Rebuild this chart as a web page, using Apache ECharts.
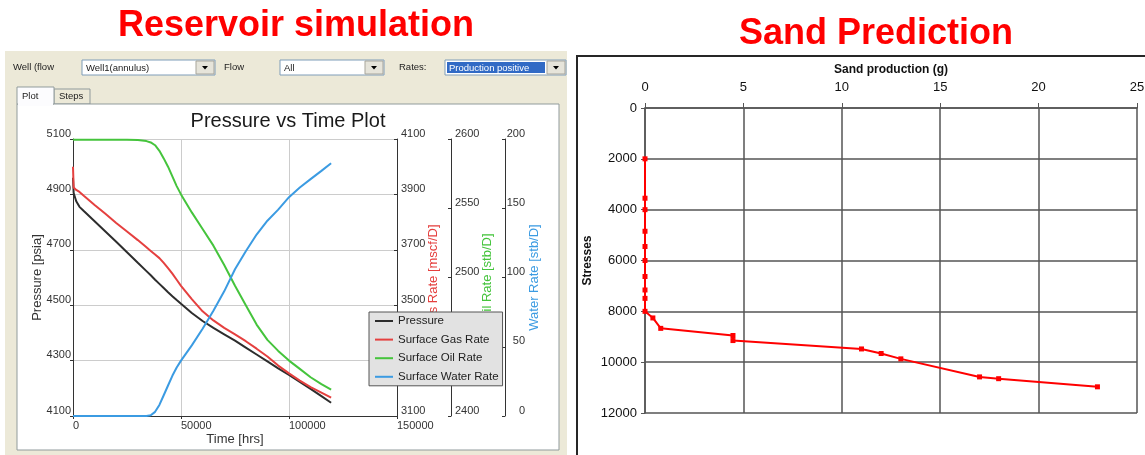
<!DOCTYPE html>
<html>
<head>
<meta charset="utf-8">
<script src="https://cdn.jsdelivr.net/npm/echarts@6/dist/echarts.min.js"></script>
<style>
  html, body { margin: 0; padding: 0; background: #ffffff; }
  #chart { width: 1145px; height: 455px; }
</style>
</head>
<body>
<div id="chart"></div>
<script>
// ---- Reservoir simulation: well history ----
const timeHrs = [0, 300, 1500, 3000, 5000, 10000, 15000, 20000, 25000, 30000, 34000, 36000, 38000,
  40000, 42000, 44000, 46000, 48000, 50000, 55000, 60000, 65000, 70000, 75000, 80000, 85000,
  90000, 95000, 100000, 105000, 110000, 115000, 119500];
const pressurePsia = [4960, 4905, 4875, 4855, 4840, 4803, 4766, 4729, 4691, 4653, 4623, 4608, 4592,
  4577, 4562, 4547, 4532.5, 4518.5, 4505, 4472, 4443, 4418, 4395, 4372, 4347, 4322,
  4297, 4272, 4248, 4223, 4198, 4172, 4148];
const gasRate = [4000, 3925, 3916, 3909, 3895, 3862, 3830, 3797, 3766, 3735, 3709, 3696, 3683,
  3670, 3653, 3634, 3614, 3592, 3570, 3522, 3478, 3445, 3418, 3395, 3370, 3343,
  3315, 3282, 3254, 3228, 3204, 3184, 3166];
const oilRate = [2599.5, 2599.5, 2599.5, 2599.5, 2599.5, 2599.5, 2599.5, 2599.5, 2599.5, 2599.3, 2598.5, 2597.5, 2595.5,
  2591.5, 2586, 2580, 2573, 2566, 2560, 2547, 2535, 2523, 2509, 2494, 2480, 2466,
  2455, 2447, 2440, 2434, 2428, 2423, 2419];
const waterRate = [0, 0, 0, 0, 0, 0, 0, 0, 0, 0, 0, 0.5, 3,
  8, 15, 22, 29, 35, 40, 51, 63, 76, 90, 106, 119, 131,
  141, 149, 158, 165, 171, 177, 182.5];
const seriesNames = ['Pressure', 'Surface Gas Rate', 'Surface Oil Rate', 'Surface Water Rate'];

// ---- Sand prediction ----
const sandGrams = [0, 0, 0, 0, 0, 0, 0, 0, 0, 0, 0.4, 0.8, 4.47, 4.47, 11.0, 12.0, 13.0, 17.0, 17.97, 22.99];
const stressValues = [2000, 3550, 4000, 4850, 5450, 6000, 6630, 7160, 7490, 8000, 8260, 8670, 8950, 9150,
  9480, 9660, 9870, 10580, 10650, 10970];

const pairs = (xs, ys) => xs.map((x, i) => [x, ys[i]]);
const plain = v => String(v);

const FONT = 'Arial, "Liberation Sans", sans-serif';
const C = { p: '#2d2d2d', gas: '#e5403f', oil: '#45c43c', water: '#3b9be2' };

// ---- dialog chrome ----
function label(x, y, text, size, color, extra) {
  return Object.assign({
    type: 'text', x: x, y: y,
    style: { text: text, font: size + 'px ' + FONT, fill: color || '#222',
      align: 'left', verticalAlign: 'middle', textAlign: 'left', textVerticalAlign: 'middle' }
  }, extra || {});
}
function combo(x, y, w, h, text, selected) {
  const els = [
    { type: 'rect', shape: { x: x, y: y, width: w, height: h }, style: { fill: '#ffffff', stroke: '#7f9db9', lineWidth: 1 } }
  ];
  const bx = x + w - 19;
  if (selected) {
    els.push({ type: 'rect', shape: { x: x + 2, y: y + 2, width: bx - x - 4, height: h - 4 }, style: { fill: '#316ac5' } });
  }
  els.push(label(x + 4, y + h / 2 + 0.5, text, 9.5, selected ? '#ffffff' : '#222'));
  els.push({ type: 'rect', shape: { x: bx, y: y + 1, width: 18, height: h - 2 }, style: { fill: '#e6e4da', stroke: '#a7a59b', lineWidth: 1 } });
  const cx = bx + 9, cy = y + h / 2;
  els.push({ type: 'polygon', shape: { points: [[cx - 3, cy - 1.5], [cx + 3, cy - 1.5], [cx, cy + 2]] }, style: { fill: '#000' } });
  return els;
}

const chrome = [
  { type: 'rect', z: -5, shape: { x: 5, y: 51, width: 562, height: 404 }, style: { fill: '#ece9d8' } },
  label(13, 67, 'Well (flow', 9.5, '#222'),
  ...combo(82, 60, 133, 15, 'Well1(annulus)', false),
  label(224, 67, 'Flow', 9.5, '#222'),
  ...combo(280, 60, 104, 15, 'All', false),
  label(399, 67, 'Rates:', 9.5, '#222'),
  ...combo(445, 60, 121, 15, 'Production positive', true),
  // tabs and tab page
  { type: 'rect', z: -4, shape: { x: 54, y: 89, width: 36, height: 15 }, style: { fill: '#ece9d8', stroke: '#919b9c', lineWidth: 1 } },
  label(59, 96.5, 'Steps', 9.5, '#222'),
  { type: 'rect', z: -4, shape: { x: 17, y: 104, width: 542, height: 346 }, style: { fill: '#ffffff', stroke: '#919b9c', lineWidth: 1 } },
  { type: 'rect', z: -3, shape: { x: 17, y: 87, width: 37, height: 17 }, style: { fill: '#fcfcfe', stroke: '#919b9c', lineWidth: 1 } },
  { type: 'rect', z: -2, shape: { x: 18, y: 103, width: 35, height: 3 }, style: { fill: '#fcfcfe' } },
  label(22, 96, 'Plot', 9.5, '#222'),
  // headings
  { type: 'text', x: 296, y: 26, style: { text: 'Reservoir simulation', font: 'bold 36px ' + FONT, fill: '#ff0000',
      align: 'center', verticalAlign: 'middle', textAlign: 'center', textVerticalAlign: 'middle' } },
  { type: 'text', x: 876, y: 34, style: { text: 'Sand Prediction', font: 'bold 36px ' + FONT, fill: '#ff0000',
      align: 'center', verticalAlign: 'middle', textAlign: 'center', textVerticalAlign: 'middle' } },
  { type: 'text', x: 288, y: 121, style: { text: 'Pressure vs Time Plot', font: '20px ' + FONT, fill: '#1a1a1a',
      align: 'center', verticalAlign: 'middle', textAlign: 'center', textVerticalAlign: 'middle' } },
  // frame round the sand chart
  { type: 'rect', z: -5, shape: { x: 577, y: 56, width: 600, height: 420 }, style: { fill: 'none', stroke: '#262626', lineWidth: 2 } }
];

const lineSeries = (name, values, yIdx, color) => ({
  name: name, type: 'line', xAxisIndex: 0, yAxisIndex: yIdx,
  data: pairs(timeHrs, values), symbol: 'none', showSymbol: false,
  lineStyle: { color: color, width: 2 }, itemStyle: { color: color }
});

const rightAxis = (offset, min, max, interval, name, color, labelAlign, labelMargin, nameGap) => ({
  type: 'value', gridIndex: 0, position: 'right', offset: offset,
  min: min, max: max, interval: interval,
  axisLine: { show: true, onZero: false, lineStyle: { color: '#333', width: 1 } },
  axisTick: { show: true, inside: true, length: 3, lineStyle: { color: '#333' } },
  axisLabel: { fontSize: 11, color: '#333', fontFamily: FONT, align: labelAlign, margin: labelMargin,
    verticalAlign: 'bottom', formatter: plain },
  splitLine: { show: false },
  name: name, nameLocation: 'middle', nameRotate: 90, nameGap: nameGap, nameMoveOverlap: false,
  nameTextStyle: { fontSize: 13, color: color, fontFamily: FONT }
});

const option = {
  animation: false,
  backgroundColor: '#ffffff',
  textStyle: { fontFamily: FONT },
  graphic: { elements: chrome },
  legend: {
    data: seriesNames,
    orient: 'vertical', left: 369, top: 312,
    padding: [2, 4, 2, 6], itemGap: 4.6, itemWidth: 18, itemHeight: 14,
    icon: 'path://M0,0 M18,14 M0,6 L18,6 L18,8 L0,8 Z',
    backgroundColor: '#e2e2e2', borderColor: '#555', borderWidth: 1, borderRadius: 0,
    textStyle: { fontSize: 11.5, color: '#222', fontFamily: FONT, lineHeight: 14 },
    selectedMode: false
  },
  grid: [
    { left: 73, top: 139, width: 324, height: 277, containLabel: false, outerBoundsMode: 'none' },
    { left: 645, top: 108, width: 492, height: 305, containLabel: false, outerBoundsMode: 'none' }
  ],
  xAxis: [
    {
      type: 'value', gridIndex: 0, min: 0, max: 150000, interval: 50000,
      axisLine: { show: true, onZero: false, lineStyle: { color: '#333', width: 1 } },
      axisTick: { show: true, length: 3, lineStyle: { color: '#333' } },
      axisLabel: { fontSize: 11, color: '#333', align: 'left', margin: 4, fontFamily: FONT, formatter: plain },
      splitLine: { show: true, lineStyle: { color: '#cccccc', width: 1 } },
      name: 'Time [hrs]', nameLocation: 'middle', nameGap: 17, nameMoveOverlap: false,
      nameTextStyle: { fontSize: 13, color: '#333', fontFamily: FONT }
    },
    {
      type: 'value', gridIndex: 1, position: 'top', min: 0, max: 25, interval: 5,
      axisLine: { show: true, onZero: false, lineStyle: { color: '#555', width: 1.5 } },
      axisTick: { show: true, length: 5, lineStyle: { color: '#555' } },
      axisLabel: { fontSize: 13, color: '#111', margin: 14, fontFamily: FONT, formatter: plain },
      splitLine: { show: true, lineStyle: { color: '#555', width: 1.5 } },
      name: 'Sand production (g)', nameLocation: 'middle', nameGap: 32, nameMoveOverlap: false,
      nameTextStyle: { fontSize: 12, fontWeight: 'bold', color: '#111', fontFamily: FONT }
    }
  ],
  yAxis: [
    {
      type: 'value', gridIndex: 0, position: 'left', min: 4100, max: 5100, interval: 200,
      axisLine: { show: true, onZero: false, lineStyle: { color: '#333', width: 1 } },
      axisTick: { show: true, length: 3, lineStyle: { color: '#333' } },
      axisLabel: { fontSize: 11, color: '#333', margin: 2, verticalAlign: 'bottom', fontFamily: FONT, formatter: plain },
      splitLine: { show: true, lineStyle: { color: '#cccccc', width: 1 } },
      name: 'Pressure [psia]', nameLocation: 'middle', nameRotate: 90, nameGap: 29, nameMoveOverlap: false,
      nameTextStyle: { fontSize: 13, color: '#333', fontFamily: FONT }
    },
    rightAxis(0, 3100, 4100, 200, 'Gas Rate [mscf/D]', C.gas, 'left', 4, 30),
    rightAxis(54, 2400, 2600, 50, 'Oil Rate [stb/D]', C.oil, 'left', 4, 30),
    rightAxis(108, 0, 200, 50, 'Water Rate [stb/D]', C.water, 'right', 20, 23),
    {
      type: 'value', gridIndex: 1, inverse: true, min: 0, max: 12000, interval: 2000,
      axisLine: { show: true, onZero: false, lineStyle: { color: '#555', width: 1.5 } },
      axisTick: { show: true, length: 4, lineStyle: { color: '#555' } },
      axisLabel: { fontSize: 13, color: '#111', margin: 8, fontFamily: FONT, formatter: plain },
      splitLine: { show: true, lineStyle: { color: '#555', width: 1.5 } },
      name: 'Stresses', nameLocation: 'middle', nameRotate: 90, nameGap: 51, nameMoveOverlap: false,
      nameTextStyle: { fontSize: 12, fontWeight: 'bold', color: '#111', fontFamily: FONT }
    }
  ],
  series: [
    lineSeries(seriesNames[0], pressurePsia, 0, C.p),
    lineSeries(seriesNames[1], gasRate, 1, C.gas),
    lineSeries(seriesNames[2], oilRate, 2, C.oil),
    lineSeries(seriesNames[3], waterRate, 3, C.water),
    {
      name: 'Sand production', type: 'line', xAxisIndex: 1, yAxisIndex: 4,
      data: pairs(sandGrams, stressValues),
      symbol: 'rect', symbolSize: 5, showSymbol: true,
      lineStyle: { color: '#ff0000', width: 2 }, itemStyle: { color: '#ff0000' }
    }
  ]
};

const chart = echarts.init(document.getElementById('chart'), null, { renderer: 'canvas' });
chart.setOption(option);
</script>
</body>
</html>
